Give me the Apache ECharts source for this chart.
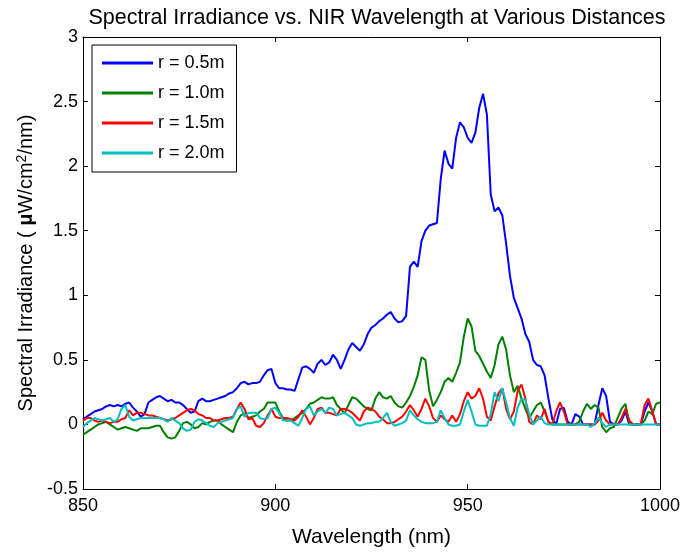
<!DOCTYPE html>
<html>
<head>
<meta charset="utf-8">
<script src="https://cdn.jsdelivr.net/npm/echarts@6/dist/echarts.min.js"></script>
<style>html,body{margin:0;padding:0;background:#fff}#c{width:684px;height:554px}</style>
</head>
<body>
<div id="c"></div>
<script>
// Wavelength grid (nm): 850..1000 step 1
const wlStart = 850, wlStep = 1;
const seriesNames = ['r = 0.5m', 'r = 1.0m', 'r = 1.5m', 'r = 2.0m'];
const xTicks = [850, 900, 950, 1000];
const yTicks = [-0.5, 0, 0.5, 1, 1.5, 2, 2.5, 3];

const r05 = [0.04,0.06,0.08,0.1,0.11,0.12,0.14,0.15,0.14,0.15,
0.14,0.16,0.17,0.13,0.1,0.06,0.08,0.17,0.19,0.21,
0.22,0.2,0.18,0.19,0.17,0.17,0.15,0.12,0.09,0.1,
0.18,0.2,0.18,0.18,0.19,0.2,0.21,0.22,0.24,0.25,
0.28,0.32,0.33,0.31,0.32,0.32,0.33,0.38,0.42,0.43,
0.32,0.28,0.28,0.27,0.27,0.26,0.35,0.44,0.45,0.43,
0.4,0.47,0.5,0.46,0.48,0.54,0.5,0.43,0.5,0.58,
0.63,0.6,0.57,0.62,0.7,0.75,0.77,0.8,0.82,0.85,
0.87,0.82,0.79,0.8,0.84,1.22,1.26,1.22,1.42,1.5,
1.54,1.55,1.56,1.9,2.12,2.02,1.98,2.22,2.34,2.3,
2.22,2.18,2.26,2.45,2.56,2.4,1.78,1.65,1.68,1.62,
1.4,1.15,0.98,0.9,0.82,0.7,0.64,0.5,0.46,0.45,
0.38,0.2,0.04,0,0.12,0.13,0.02,0,0.08,0.06,
0,0,0,0,0.15,0.28,0.22,0.02,0,0,
0.03,0.1,0,0,0,0,0.1,0.17,0.1,0,
0];
const r10 = [-0.08,-0.06,-0.04,-0.02,0,0.01,0.02,0,-0.02,-0.04,
-0.03,-0.02,-0.03,-0.04,-0.05,-0.03,-0.03,-0.03,-0.02,-0.01,
-0.01,-0.06,-0.1,-0.11,-0.1,-0.05,0.01,0.02,0,-0.03,
-0.02,0.01,0,0.02,0.03,0.03,0,-0.02,-0.04,-0.06,
0.02,0.07,0.085,0.05,0.06,0.07,0.1,0.12,0.17,0.17,
0.17,0.1,0.05,0.03,0.03,0.05,0.07,0.09,0.12,0.16,
0.17,0.19,0.21,0.2,0.2,0.21,0.15,0.12,0.085,0.15,
0.21,0.2,0.17,0.14,0.12,0.11,0.2,0.25,0.21,0.2,
0.22,0.17,0.14,0.13,0.17,0.22,0.29,0.38,0.52,0.5,
0.26,0.14,0.19,0.25,0.33,0.36,0.33,0.4,0.48,0.68,
0.82,0.76,0.57,0.53,0.47,0.41,0.36,0.46,0.62,0.68,
0.58,0.38,0.25,0.3,0.2,0.12,0.05,0.1,0.15,0.17,
0.1,0.02,0,0,0,0,0,0,0,0.02,
0.1,0.16,0.12,0.15,0.13,-0.02,-0.06,-0.03,-0.02,0.05,
0.12,0.16,0.02,0,0,0,0.03,0.1,0.08,0.16,
0.17];
const r15 = [0.03,0.05,0.05,0.03,0.02,0.03,0.02,0.01,0.02,0.02,
0.04,0.05,0.11,0.07,0.09,0.09,0.08,0.07,0.07,0.06,
0.05,0.04,0.03,0.04,0.05,0.07,0.09,0.11,0.12,0.11,
0.08,0.07,0.05,0.05,0.03,0.03,0.04,0.05,0.05,0.06,
0.12,0.17,0.12,0.04,0.05,-0.01,-0.02,0.01,0.07,0.12,
0.06,0.05,0.05,0.05,0.04,0.03,0.06,0.11,0.06,0,
0.05,0.12,0.13,0.09,0.09,0.08,0.07,0.12,0.12,0.11,
0.09,0.06,0.03,0.1,0.13,0.12,0.1,0.06,0.04,0.01,
0.01,0.02,0.04,0.06,0.1,0.15,0.11,0.06,0.12,0.2,
0.14,0.05,0.02,0.07,0.04,0.02,0.07,0.02,0.08,0.18,
0.25,0.2,0.22,0.28,0.2,0.06,0.03,0.14,0.24,0.28,
0.12,0.04,0.1,0.26,0.31,0.2,0.02,0,0.07,0.04,
0.12,0.02,0,0.1,0.17,0.1,0,0,0,0,
0,0,0,0,0.03,0.09,0.03,0,0,0,
0.05,0.12,0.03,0,0,0,0.15,0.2,0.1,0,
0];
const r20 = [-0.02,0.01,0.03,0.05,0.04,0.03,0.04,0.05,0.02,0.04,
0.12,0.15,0.06,0.03,0.04,0.05,0.05,0.05,0.05,0.05,
0.05,0.04,0.02,0.05,0.03,0.01,-0.03,-0.05,-0.04,0.02,
0.04,0.03,0.01,-0.01,-0.02,0.01,0.02,0.03,0.04,0.05,
0.12,0.14,0.06,0.09,0.09,0.09,0.05,0.04,0.05,0.12,
0.13,0.09,0.03,0.03,0.03,0.01,-0.01,0.05,0.12,0.14,
0.07,0.1,0.12,0.09,0.13,0.12,0.07,0.08,0.09,0.07,
0.05,0,-0.01,0,0.01,0.01,0.02,0.02,0.05,0.09,
0.02,-0.01,0,0.01,0.03,0.11,0.07,0.04,0.02,0.01,
0.01,0.01,0.02,0.11,0.05,0,-0.01,-0.01,0,0.1,
0.19,0.1,0,-0.01,-0.01,-0.01,0.08,0.25,0.18,0.28,
0.17,0.05,-0.01,0.13,0.2,0.19,0.08,0,0.03,0.06,
0.01,0,0,0,0,0,0,0,0,0,
0,0,-0.02,0.01,0.05,0.01,-0.02,0,0,0,
0,0,0,0,0,0,0,0,0,0,
0];

const colors = ['#0000ff', '#008000', '#ff0000', '#00bfbf'];
const allValues = [r05, r10, r15, r20];

function pairs(arr) { return arr.map((v, i) => [wlStart + i * wlStep, v]); }

const FONT = 'Liberation Sans';
const chart = echarts.init(document.getElementById('c'), null, { renderer: 'canvas' });

const axisCommon = {
  axisLine: { show: true, onZero: false, lineStyle: { color: '#000', width: 1 } },
  axisTick: { show: true, inside: true, length: 5, lineStyle: { color: '#000' } },
  splitLine: { show: false }
};

chart.setOption({
  animation: false,
  backgroundColor: '#fff',
  title: {
    text: 'Spectral Irradiance vs. NIR Wavelength at Various Distances',
    left: 372, textAlign: 'center', top: 2,
    textStyle: { fontFamily: FONT, fontSize: 21.5, fontWeight: 'normal', color: '#000' }
  },
  grid: { left: 83, right: 24, top: 37, bottom: 65, containLabel: false },
  legend: {
    data: seriesNames,
    orient: 'vertical',
    left: 92, top: 45,
    padding: [9, 12, 10, 10],
    backgroundColor: '#fff',
    borderColor: '#000', borderWidth: 1,
    itemWidth: 51, itemHeight: 3, itemGap: 12,
    icon: 'rect',
    textStyle: { fontFamily: FONT, fontSize: 18, color: '#000', lineHeight: 18, padding: [0, 0, 0, 0] }
  },
  xAxis: [
    Object.assign({}, axisCommon, {
      type: 'value', min: 850, max: 1000, interval: 50, position: 'bottom',
      name: 'Wavelength (nm)', nameLocation: 'middle', nameGap: 38,
      nameTextStyle: { fontFamily: FONT, fontSize: 21, color: '#000' },
      axisLabel: { fontFamily: FONT, fontSize: 18, color: '#000', margin: 8,
        formatter: v => (xTicks.indexOf(v) >= 0 ? String(v) : '') }
    }),
    Object.assign({}, axisCommon, {
      type: 'value', min: 850, max: 1000, interval: 50, position: 'top',
      axisLabel: { show: false }
    })
  ],
  yAxis: [
    Object.assign({}, axisCommon, {
      type: 'value', min: -0.5, max: 3, interval: 0.5, position: 'left',
      name: '{a|Spectral Irradiance ( }{b|μ}{a|W/cm}{s|2}{a|/nm)}',
      nameLocation: 'middle', nameGap: 46, nameRotate: 90,
      nameTextStyle: {
        fontFamily: FONT, fontSize: 20, color: '#000',
        rich: {
          a: { fontFamily: FONT, fontSize: 20, color: '#000' },
          b: { fontFamily: FONT, fontSize: 20, fontWeight: 'bold', color: '#000' },
          s: { fontFamily: FONT, fontSize: 14, color: '#000', verticalAlign: 'top', padding: [0, 0, 8, 0] }
        }
      },
      axisLabel: { fontFamily: FONT, fontSize: 18, color: '#000', margin: 5,
        formatter: v => (yTicks.indexOf(v) >= 0 ? String(v) : '') }
    }),
    Object.assign({}, axisCommon, {
      type: 'value', min: -0.5, max: 3, interval: 0.5, position: 'right',
      axisLabel: { show: false }
    })
  ],
  series: allValues.map((vals, k) => ({
    name: seriesNames[k],
    type: 'line',
    xAxisIndex: 0, yAxisIndex: 0,
    data: pairs(vals),
    showSymbol: false, symbol: 'none',
    lineStyle: { color: colors[k], width: 2 },
    itemStyle: { color: colors[k] },
    z: 2 + k
  }))
});
</script>
</body>
</html>
